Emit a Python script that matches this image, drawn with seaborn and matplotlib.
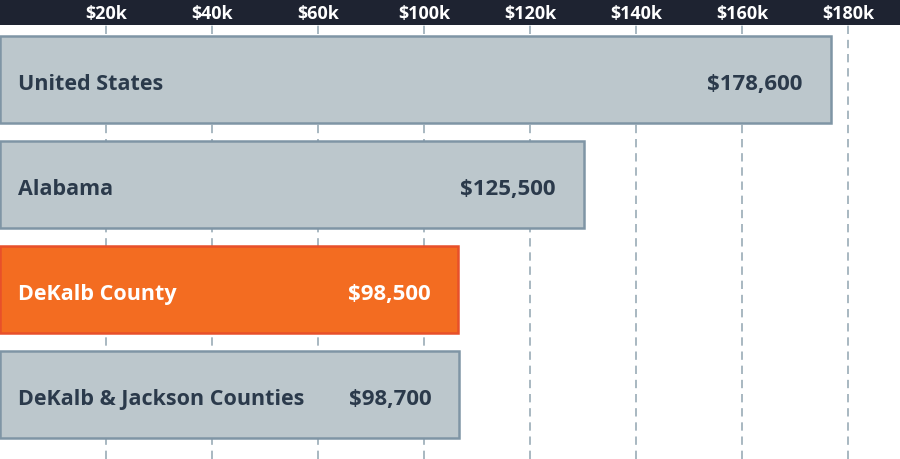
import matplotlib
matplotlib.use("Agg")
import matplotlib.pyplot as plt
import matplotlib.patches as mpatches
import pandas as pd
import seaborn as sns

# chart data
regions = ["United States", "Alabama", "DeKalb County", "DeKalb & Jackson Counties"]
median_value = [178600, 125500, 98500, 98700]
value_labels = ["$178,600", "$125,500", "$98,500", "$98,700"]
tick_labels = ["$20k", "$40k", "$60k", "$100k", "$120k", "$140k", "$160k", "$180k"]
highlight = "DeKalb County"

GREY_FILL = "#bcc7cc"
GREY_EDGE = "#7f95a5"
ORANGE_FILL = "#f36c21"
ORANGE_EDGE = "#e8502a"
TEXT_DARK = "#2b3a4b"
HEADER = "#1e2331"
GRID = "#9aabb6"

# the grid in the original image is not on the same scale as the bars
GRID_STEP = 22800
X_MAX = 193500


def draw_chart():
    df = pd.DataFrame({"region": regions, "value": median_value})
    palette = {r: (ORANGE_FILL if r == highlight else GREY_FILL) for r in regions}

    sns.set_style("white")
    plt.rcParams["font.family"] = ["Open Sans", "DejaVu Sans"]

    fig = plt.figure(figsize=(9, 4.6), dpi=100)
    ax = fig.add_axes([0, 0, 1, 434 / 460])

    # dark header band above the plot area
    fig.patches.append(mpatches.Rectangle((0, 434 / 460), 1, 26 / 460,
                                          transform=fig.transFigure,
                                          color=HEADER, zorder=-5))

    sns.barplot(data=df, y="region", x="value", hue="region", palette=palette,
                orient="h", width=0.83, dodge=False, legend=False, ax=ax,
                saturation=1, linewidth=1.8)

    for patch, r in zip(ax.patches, regions):
        patch.set_edgecolor(ORANGE_EDGE if r == highlight else GREY_EDGE)
        patch.set_zorder(3)

    ax.set_xlim(0, X_MAX)
    ax.set_ylim(3.614, -0.519)

    ax.xaxis.tick_top()
    ax.set_xticks([GRID_STEP * (i + 1) for i in range(len(tick_labels))])
    ax.set_xticklabels(tick_labels, color="white", fontsize=13, fontweight="bold")
    ax.tick_params(axis="x", length=0, pad=2.5)
    ax.set_yticks([])
    ax.set_xlabel("")
    ax.set_ylabel("")
    ax.grid(axis="x", color=GRID, linestyle=(0, (5, 3.5)), linewidth=1.2)
    ax.set_axisbelow(True)
    for s in ax.spines.values():
        s.set_visible(False)

    for i, (r, v, lab) in enumerate(zip(regions, median_value, value_labels)):
        c = "white" if r == highlight else TEXT_DARK
        ax.text(3900, i + 0.04, r, va="center", ha="left", color=c,
                fontsize=15.5, fontweight="bold", zorder=5)
        ax.text(v - 6000, i + 0.04, lab, va="center", ha="right", color=c,
                fontsize=16, fontweight="bold", zorder=5)

    fig.savefig("out.png", dpi=100)


if __name__ == "__main__":
    draw_chart()
